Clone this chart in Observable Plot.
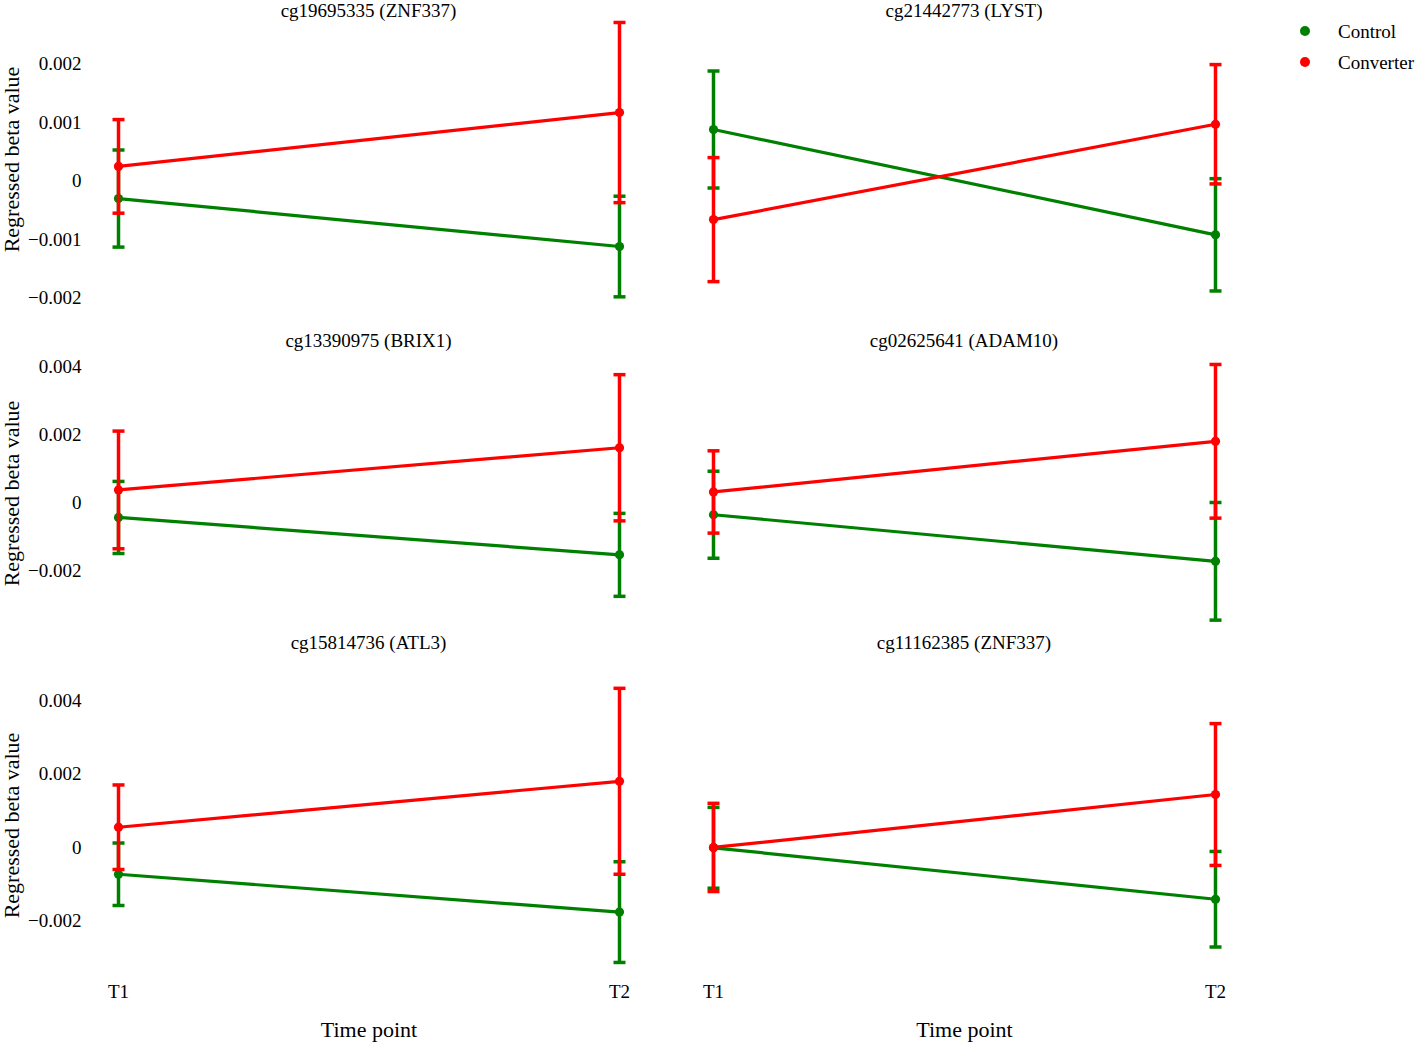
<!DOCTYPE html>
<html><head><meta charset="utf-8">
<script src="https://cdn.jsdelivr.net/npm/d3@7"></script>
<script src="https://cdn.jsdelivr.net/npm/@observablehq/plot@0.6"></script>
<style>
body{margin:0;background:#fff;}
#chart{position:relative;width:1418px;height:1044px;font-family:"Liberation Serif","Times New Roman",serif;color:#000;overflow:hidden;background:#fff}
.panel{position:absolute}
.title{position:absolute;font-size:19px;transform:translate(-50%,-50%);white-space:nowrap;line-height:1}
.legend-item{position:absolute;font-size:19px;line-height:1;white-space:nowrap;transform:translateY(-50%)}
.legend-dot{position:absolute;width:10px;height:10px;border-radius:50%;transform:translate(-50%,-50%)}
</style></head><body><div id="chart"></div>
<script>
// ---- data ----
const probes = ["cg19695335 (ZNF337)", "cg21442773 (LYST)", "cg13390975 (BRIX1)", "cg02625641 (ADAM10)", "cg15814736 (ATL3)", "cg11162385 (ZNF337)"];
const timePoints = ["T1", "T2"];
const groups = ["Control", "Converter"];
const controlMean = [[-0.0003, -0.00112], [0.00088, -0.00092], [-0.00044, -0.00154], [-0.00036, -0.00173], [-0.00072, -0.00175], [0.0, -0.0014]];
const controlErr = [[0.00083, 0.00086], [0.001, 0.00096], [0.00106, 0.00122], [0.00128, 0.00173], [0.00085, 0.00137], [0.0011, 0.0013]];
const converterMean = [[0.00025, 0.00117], [-0.00066, 0.00097], [0.00037, 0.00161], [0.00031, 0.0018], [0.00056, 0.00181], [0.00001, 0.00145]];
const converterErr = [[0.0008, 0.00154], [0.00106, 0.00102], [0.00173, 0.00215], [0.00121, 0.00226], [0.00115, 0.00253], [0.0012, 0.00193]];
const rowYTicks = [[-0.002, -0.001, 0, 0.001, 0.002], [-0.002, 0, 0.002, 0.004], [-0.002, 0, 0.002, 0.004]];
const yLabel = "Regressed beta value";
const xLabel = "Time point";

// ---- layout / style ----
const groupColors = ["#008000", "#ff0000"];
const FONT = "'Liberation Serif', 'Times New Roman', serif";
const rows = [
  {top: 0, height: 310, mt: 20, mb: 12, domain: [-0.002, 0.002], range: [297.5, 63.5], titleY: 10},
  {top: 330, height: 300, mt: 36, mb: 10, domain: [-0.002, 0.004], range: [240, 36], titleY: 340},
  {top: 630, height: 414, mt: 60, mb: 84, domain: [-0.002, 0.004], range: [290.8, 70.3], titleY: 642}
];
const cols = [
  {left: 0, width: 660, ml: 100, mr: 23, range: [118, 619], titleX: 368.5},
  {left: 660, width: 680, ml: 53, mr: 125, range: [53, 555], titleX: 964}
];
const capSymbol = {draw(ctx, size) { const w = Math.sqrt(size / Math.PI); ctx.moveTo(-w, 0); ctx.lineTo(w, 0); }};
const fmt = d => d === 0 ? "0" : d3.format("~g")(d);

const chart = document.getElementById("chart");

rows.forEach((row, r) => {
  cols.forEach((col, c) => {
    const p = r * 2 + c;
    const data = groups.flatMap((g, gi) => timePoints.map((t, ti) => ({
      group: g, time: t,
      mean: (gi ? converterMean : controlMean)[p][ti],
      err: (gi ? converterErr : controlErr)[p][ti]
    })));
    const marks = [];
    if (c === 0) {
      marks.push(Plot.axisY(rowYTicks[r], {tickSize: 0, tickPadding: 19, tickFormat: fmt, fontSize: 19, label: null}));
      marks.push(Plot.axisY({ticks: [], label: yLabel, labelAnchor: "center", labelOffset: 97, labelArrow: "none", fontSize: 22}));
    }
    if (r === 2) {
      marks.push(Plot.axisX({tickSize: 0, tickPadding: 23.5, fontSize: 19, label: null}));
      marks.push(Plot.axisX({ticks: [], label: xLabel, labelAnchor: "center", labelOffset: 76, labelArrow: "none", fontSize: 22}));
    }
    groups.forEach((g, gi) => {
      const gd = data.filter(d => d.group === g);
      const color = groupColors[gi];
      marks.push(
        Plot.line(gd, {x: "time", y: "mean", stroke: color, strokeWidth: 3.2}),
        Plot.ruleX(gd, {x: "time", y1: d => d.mean - d.err, y2: d => d.mean + d.err, stroke: color, strokeWidth: 3.5}),
        Plot.dot(gd, {x: "time", y: d => d.mean + d.err, symbol: capSymbol, r: 6, stroke: color, fill: "none", strokeWidth: 3.5}),
        Plot.dot(gd, {x: "time", y: d => d.mean - d.err, symbol: capSymbol, r: 6, stroke: color, fill: "none", strokeWidth: 3.5}),
        Plot.dot(gd, {x: "time", y: "mean", r: 4.6, fill: color, stroke: "none"})
      );
    });
    const svg = Plot.plot({
      width: col.width, height: row.height,
      marginTop: row.mt, marginBottom: row.mb, marginLeft: col.ml, marginRight: col.mr,
      x: {domain: timePoints, range: col.range, padding: 0, axis: r === 2 ? undefined : null},
      y: {domain: row.domain, range: row.range, axis: c === 0 ? undefined : null},
      style: {fontFamily: FONT, fontSize: "19px", background: "transparent", overflow: "visible", color: "#000"},
      marks
    });
    svg.classList.add("panel");
    svg.style.left = col.left + "px";
    svg.style.top = row.top + "px";
    chart.appendChild(svg);

    const title = document.createElement("div");
    title.className = "title";
    title.textContent = probes[p];
    title.style.left = col.titleX + "px";
    title.style.top = row.titleY + "px";
    chart.appendChild(title);
  });
});

// legend
groups.forEach((g, gi) => {
  const y = 31 + gi * 31;
  const dot = document.createElement("div");
  dot.className = "legend-dot";
  dot.style.background = groupColors[gi];
  dot.style.left = "1305px";
  dot.style.top = y + "px";
  chart.appendChild(dot);
  const label = document.createElement("div");
  label.className = "legend-item";
  label.textContent = g;
  label.style.left = "1338px";
  label.style.top = y + "px";
  chart.appendChild(label);
});
</script></body></html>
